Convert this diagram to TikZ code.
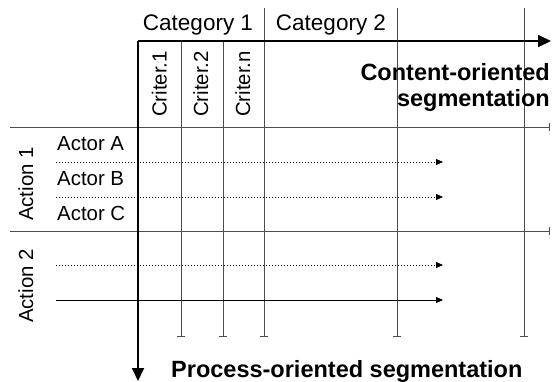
\documentclass[tikz,border=0pt]{standalone}
\usepackage{fontspec}
\setmainfont{Liberation Sans}
\usetikzlibrary{arrows.meta}
\begin{document}
\begin{tikzpicture}[x=1pt,y=-1pt,
  gridline/.style={line width=0.9pt,draw=black!70},
  axisline/.style={line width=1.8pt,draw=black,-{Triangle[length=13pt,width=12pt]}},
  barend/.style={-{Bar[width=8pt,line width=0.9pt]}},
  flowdot/.style={line width=0.8pt,dash pattern=on 1.2pt off 1.8pt,-{Triangle[length=7pt,width=6pt]}},
  flowsolid/.style={line width=0.8pt,-{Triangle[length=7pt,width=6pt]}},
  lbl/.style={inner sep=0pt,font=\fontsize{20.4}{24}\selectfont},
  cat/.style={inner sep=0pt,font=\fontsize{22.5}{26}\selectfont},
  head/.style={inner sep=0pt,font=\fontsize{23.5}{28}\selectfont\bfseries},
  vlbl/.style={lbl,rotate=90,anchor=base west}]
  \useasboundingbox[fill=white] (0,0) rectangle (553,381);

  % frame coordinates
  \coordinate (origin) at (138,41);
  \coordinate (xend) at (551,41);
  \coordinate (yend) at (138,381);
  % column boundaries
  \coordinate (c1t) at (181,41);  \coordinate (c1b) at (181,337);
  \coordinate (c2t) at (223,41);  \coordinate (c2b) at (223,337);
  \coordinate (c3t) at (264,8);   \coordinate (c3b) at (264,337);
  \coordinate (c4t) at (397,8);   \coordinate (c4b) at (397,337);
  \coordinate (c5t) at (524,8);   \coordinate (c5b) at (524,337);
  % row boundaries
  \coordinate (r1l) at (10,127);  \coordinate (r1r) at (550,127);
  \coordinate (r2l) at (10,231);  \coordinate (r2r) at (550,231);
  % flows
  \coordinate (f1l) at (56,162);  \coordinate (f1r) at (443,162);
  \coordinate (f2l) at (56,197);  \coordinate (f2r) at (443,197);
  \coordinate (f3l) at (56,265);  \coordinate (f3r) at (443,265);
  \coordinate (f4l) at (56,300);  \coordinate (f4r) at (443,300);

  % grid
  \foreach \c in {c1,c2,c3,c4,c5}
    \draw[gridline,barend] (\c t) -- (\c b);
  \draw[gridline,barend] (r1l) -- (r1r);
  \draw[gridline,barend] (r2l) -- (r2r);

  % flows of actions
  \draw[flowdot] (f1l) -- (f1r);
  \draw[flowdot] (f2l) -- (f2r);
  \draw[flowdot] (f3l) -- (f3r);
  \draw[flowsolid] (f4l) -- (f4r);

  % axes
  \draw[axisline] (origin) -- (xend);
  \draw[axisline] (origin) -- (yend);

  % header labels
  \node[cat,anchor=base] (cat1) at (198,30) {Category 1};
  \node[cat,anchor=base] (cat2) at (331,30) {Category 2};
  \node[vlbl] (cr1) at (166.5,117) {Criter.1};
  \node[vlbl] (cr2) at (208,117) {Criter.2};
  \node[vlbl] (crn) at (250,117) {Criter.n};
  \node[head,anchor=base east] (cont1) at (550,80) {Content-oriented};
  \node[head,anchor=base east] (cont2) at (550,106) {segmentation};

  % row labels
  \node[vlbl] (act1) at (33,221) {Action 1};
  \node[vlbl] (act2) at (33,323) {Action 2};
  \node[lbl,anchor=base west] (acta) at (57,150) {Actor A};
  \node[lbl,anchor=base west] (actb) at (57,185) {Actor B};
  \node[lbl,anchor=base west] (actc) at (57,220) {Actor C};

  \node[head,anchor=base west] (proc) at (171,377) {Process-oriented segmentation};
\end{tikzpicture}
\end{document}
